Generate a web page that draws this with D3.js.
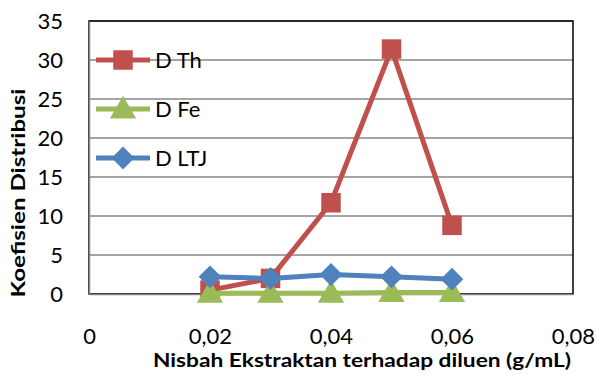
<!DOCTYPE html>
<html>
<head>
<meta charset="utf-8">
<script src="https://cdn.jsdelivr.net/npm/d3@7"></script>
<style>
  html, body { margin: 0; padding: 0; background: #fff; }
  svg { display: block; font-family: Lato, "Open Sans", sans-serif; }
</style>
</head>
<body>
<svg id="chart" width="597" height="375"></svg>
<script>
// Extractant-to-diluent ratio (g/mL)
const ratios = [0.02, 0.03, 0.04, 0.05, 0.06];
// Distribution coefficients
const dTh  = [0.5, 2.0, 11.7, 31.4, 8.8];
const dFe  = [0.1, 0.1, 0.1, 0.2, 0.2];
const dLTJ = [2.2, 2.0, 2.5, 2.2, 1.9];

const xTicks = [0, 0.02, 0.04, 0.06, 0.08];
const yTicks = [0, 5, 10, 15, 20, 25, 30, 35];

const seriesNames = ["D Th", "D Fe", "D LTJ"];
const seriesValues = [dTh, dFe, dLTJ];
const seriesColors = ["#C0504D", "#9BBB59", "#4F81BD"];
const seriesSymbols = [d3.symbolSquare, d3.symbolTriangle, d3.symbolDiamond2];

const yTitle = "Koefisien Distribusi";
const xTitle = "Nisbah Ekstraktan terhadap diluen (g/mL)";

const svg = d3.select("#chart");
const plot = { left: 89, top: 21, right: 573, bottom: 294 };

const x = d3.scaleLinear().domain([0, 0.08]).range([plot.left, plot.right]);
const y = d3.scaleLinear().domain([0, 35]).range([plot.bottom, plot.top]);

// gridlines
svg.append("g")
  .selectAll("line")
  .data(yTicks)
  .join("line")
  .attr("x1", plot.left).attr("x2", plot.right)
  .attr("y1", d => y(d)).attr("y2", d => y(d))
  .attr("stroke", "#868686").attr("stroke-width", 1.5);

// plot area border
svg.append("rect")
  .attr("x", plot.left).attr("y", plot.top)
  .attr("width", plot.right - plot.left).attr("height", plot.bottom - plot.top)
  .attr("fill", "none").attr("stroke", "#000").attr("stroke-width", 1.5);

// y axis
const yAxis = svg.append("g")
  .attr("transform", `translate(${plot.left},0)`)
  .call(d3.axisLeft(y).tickValues(yTicks).tickSize(0).tickPadding(26));
yAxis.select(".domain").attr("stroke", "#868686").attr("stroke-width", 1.5);
yAxis.selectAll("text").attr("font-size", 22).attr("fill", "#000")
  .attr("font-family", "Lato, sans-serif");

// x axis
const fmt = d => d === 0 ? "0" : d3.format(".2f")(d).replace(".", ",");
const xAxis = svg.append("g")
  .attr("transform", `translate(0,${plot.bottom})`)
  .call(d3.axisBottom(x).tickValues(xTicks).tickFormat(fmt).tickSize(0));
xAxis.select(".domain").attr("stroke", "#868686").attr("stroke-width", 1.5);
xAxis.selectAll("text").attr("font-size", 22).attr("fill", "#000")
  .attr("font-family", "Lato, sans-serif")
  .attr("y", 50).attr("dy", 0);

// axis titles
svg.append("text")
  .attr("x", 362).attr("y", 367)
  .attr("text-anchor", "middle")
  .attr("font-size", 19).attr("font-weight", "bold")
  .attr("textLength", 418).attr("lengthAdjust", "spacingAndGlyphs")
  .text(xTitle);

svg.append("text")
  .attr("transform", "translate(25,193) rotate(-90)")
  .attr("text-anchor", "middle")
  .attr("font-size", 19).attr("font-weight", "bold")
  .attr("textLength", 209).attr("lengthAdjust", "spacingAndGlyphs")
  .text(yTitle);

// series lines and markers
const line = d3.line().x((d, i) => x(ratios[i])).y(d => y(d));
const symbolSizes = [380, 300, 330];

seriesValues.forEach((vals, s) => {
  const g = svg.append("g");
  g.append("path")
    .datum(vals)
    .attr("d", line)
    .attr("fill", "none")
    .attr("stroke", seriesColors[s])
    .attr("stroke-width", 5)
    .attr("stroke-linejoin", "round");
  g.selectAll("path.marker")
    .data(vals)
    .join("path")
    .attr("class", "marker")
    .attr("transform", (d, i) => `translate(${x(ratios[i])},${y(d) + (s === 1 ? 2 : 0)})`)
    .attr("d", d3.symbol(seriesSymbols[s], symbolSizes[s]))
    .attr("fill", seriesColors[s]);
});

// legend
const legend = svg.append("g");
const legendY = [60, 109, 158];
seriesNames.forEach((name, s) => {
  const gy = legendY[s];
  legend.append("line")
    .attr("x1", 96).attr("x2", 150).attr("y1", gy).attr("y2", gy)
    .attr("stroke", seriesColors[s]).attr("stroke-width", 5);
  legend.append("path")
    .attr("transform", `translate(123,${gy + (s === 1 ? 2 : 0)})`)
    .attr("d", d3.symbol(seriesSymbols[s], symbolSizes[s]))
    .attr("fill", seriesColors[s]);
  legend.append("text")
    .attr("x", 155).attr("y", gy + 8)
    .attr("font-size", 22)
    .text(name);
});
</script>
</body>
</html>
